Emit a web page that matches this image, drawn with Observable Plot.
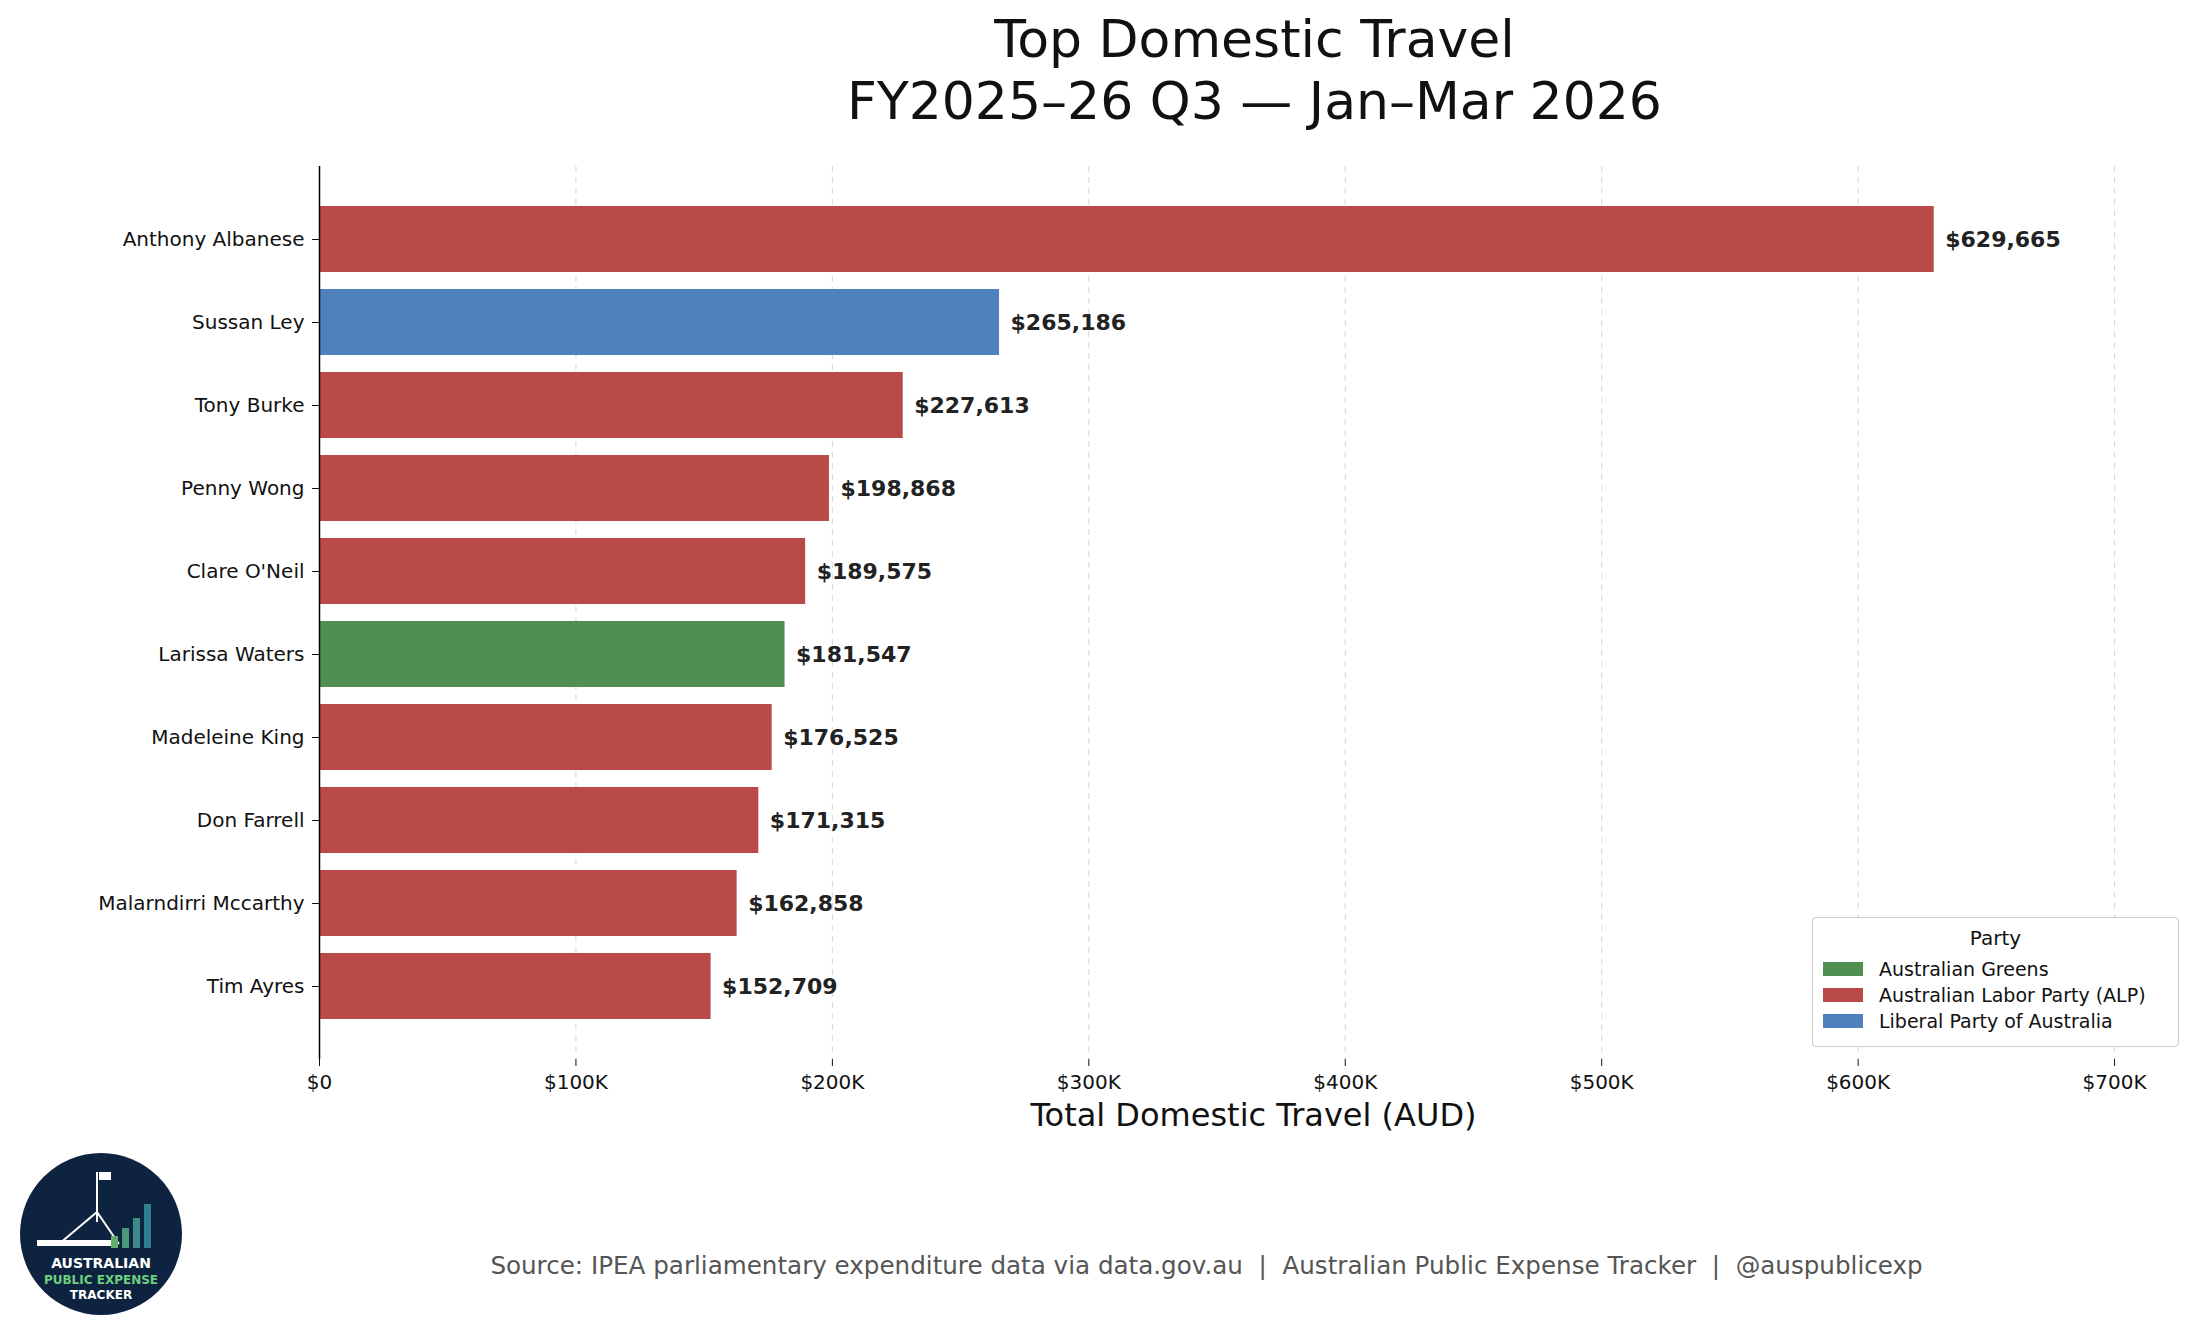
<!DOCTYPE html>
<html><head><meta charset="utf-8">
<script src="https://cdn.jsdelivr.net/npm/d3@7"></script>
<script src="https://cdn.jsdelivr.net/npm/@observablehq/plot@0.6"></script>
<style>
body{margin:0;background:#fff;font-family:"DejaVu Sans",sans-serif;}
#wrap{position:relative;width:2205px;height:1337px;overflow:hidden}
.t{position:absolute;left:0;width:2205px;text-align:center;color:#111}
</style></head><body>
<div id="wrap">
<div class="t" style="top:8px;font-size:52px;line-height:62px;left:152px;width:2205px;">Top Domestic Travel<br>FY2025–26 Q3 — Jan–Mar 2026</div>
<div id="chart" style="position:absolute;left:0;top:0"></div>
<div class="t" style="top:1096px;font-size:32px;left:151px;">Total Domestic Travel (AUD)</div>
<div id="legend" style="position:absolute;left:1812px;top:917px;width:367px;height:130px;border:1px solid #ccc;border-radius:4px;background:#fff;font-size:19px;color:#111;box-sizing:border-box;padding:8px 10px;"></div>
<div class="t" style="top:1251px;font-size:24.6px;color:#555;left:104px;">Source: IPEA parliamentary expenditure data via data.gov.au&nbsp; | &nbsp;Australian Public Expense Tracker&nbsp; | &nbsp;@auspublicexp</div>
<svg style="position:absolute;left:19px;top:1152px" width="164" height="164">
<circle cx="82" cy="82" r="81" fill="#0d2340"/>
<line x1="78" y1="20" x2="78" y2="70" stroke="#fff" stroke-width="2"/>
<rect x="80" y="20" width="12" height="8" fill="#fff"/>
<path d="M40 92 L78 60 L100 92" stroke="#fff" fill="none" stroke-width="2"/>
<rect x="18" y="88" width="75" height="6" fill="#fff"/>
<rect x="92" y="84" width="7" height="12" fill="#5fae6e"/>
<rect x="103" y="76" width="7" height="20" fill="#4a9a7a"/>
<rect x="114" y="66" width="7" height="30" fill="#3d8a88"/>
<rect x="125" y="52" width="7" height="44" fill="#2f7f8e"/>
<text x="82" y="116" fill="#fff" font-size="14" font-weight="bold" text-anchor="middle">AUSTRALIAN</text>
<text x="82" y="132" fill="#6fcf7f" font-size="12" font-weight="bold" text-anchor="middle">PUBLIC EXPENSE</text>
<text x="82" y="147" fill="#fff" font-size="12" font-weight="bold" text-anchor="middle">TRACKER</text>
</svg>
</div>
<script>
const names=["Anthony Albanese","Sussan Ley","Tony Burke","Penny Wong","Clare O'Neil","Larissa Waters","Madeleine King","Don Farrell","Malarndirri Mccarthy","Tim Ayres"];
const values=[629665,265186,227613,198868,189575,181547,176525,171315,162858,152709];
const parties=["ALP","LIB","ALP","ALP","ALP","GRN","ALP","ALP","ALP","ALP"];
const partyNames={GRN:"Australian Greens",ALP:"Australian Labor Party (ALP)",LIB:"Liberal Party of Australia"};
const partyColors={GRN:"#4f8f4f",ALP:"#b94a48",LIB:"#4f81bd"};
const xTicks=[0,100000,200000,300000,400000,500000,600000,700000];
const data=names.map((n,i)=>({name:n,value:values[i],party:parties[i]}));
const fmt=d=>d===0?"$0":`$${d/1000}K`;
const chart=Plot.plot({
  width:2205,height:1140,marginLeft:319,marginRight:14,marginTop:166,marginBottom:81,
  style:{fontFamily:"DejaVu Sans",fontSize:"20px",color:"#111"},
  x:{domain:[0,730000],label:null},
  y:{domain:names,padding:0.2,paddingOuter:0.45,label:null},
  marks:[
    Plot.gridX(xTicks.slice(1),{stroke:"#bbb",strokeDasharray:"6,5",strokeOpacity:0.6}),
    Plot.barX(data,{y:"name",x:"value",fill:d=>partyColors[d.party]}),
    Plot.text(data,{y:"name",x:"value",text:d=>"$"+d3.format(",")(d.value),textAnchor:"start",dx:11,fontWeight:"bold",fontSize:22,fill:"#222"}),
    Plot.ruleX([0],{stroke:"#000",strokeWidth:1.5}),
    Plot.ruleY([0],{frameAnchor:"bottom",stroke:"#000",strokeWidth:1.5}),
    Plot.axisX({ticks:xTicks,tickFormat:fmt,label:null,tickSize:7,fontSize:20,tickPadding:8}),
    Plot.axisY({label:null,tickSize:7,fontSize:20,tickPadding:8})
  ]
});
document.getElementById("chart").appendChild(chart);
const lg=document.getElementById("legend");
lg.innerHTML='<div style="text-align:center;font-size:20px;margin-bottom:6px">Party</div>'+
["GRN","ALP","LIB"].map(p=>`<div style="display:flex;align-items:center;height:26px"><span style="display:inline-block;width:40px;height:14px;background:${partyColors[p]};margin-right:16px"></span>${partyNames[p]}</div>`).join("");
</script>
</body></html>
